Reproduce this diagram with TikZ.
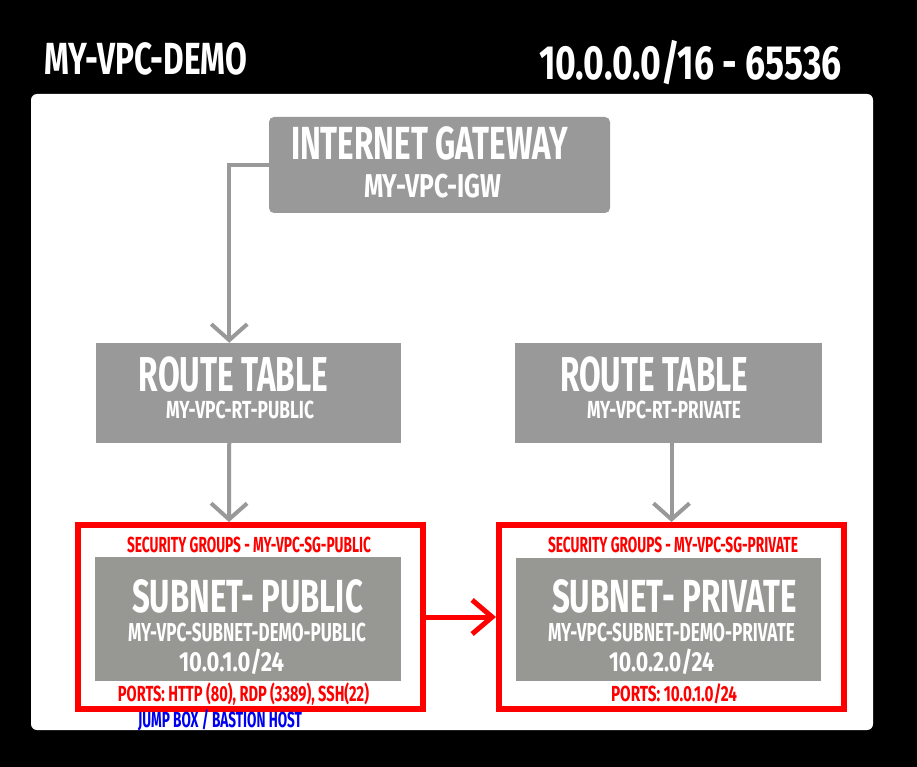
\documentclass[tikz,border=0pt]{standalone}
\usepackage{fontspec}
\setmainfont{Fira Sans}
\usepackage{graphicx}
\usetikzlibrary{arrows.meta}
\definecolor{boxgray}{RGB}{153,153,153}
\definecolor{subgray}{RGB}{151,151,148}
\definecolor{sgred}{RGB}{255,0,0}
\definecolor{hostblue}{RGB}{0,0,240}
\newcommand\fitw[3]{\resizebox{#1pt}{\height}{\fontsize{#2pt}{#2pt}\selectfont\bfseries #3}}
\begin{document}
\begin{tikzpicture}[x=1pt,y=-1pt,
  basetxt/.style={inner sep=0pt, anchor=base, text depth=0pt},
  txt/.style={basetxt, text=white},
  redtxt/.style={basetxt, text=sgred},
  bluetxt/.style={basetxt, text=hostblue},
  panel/.style={fill=white, rounded corners=6pt, minimum width=842pt, minimum height=636pt, inner sep=0pt},
  graybox/.style={fill=boxgray, inner sep=0pt},
  subbox/.style={fill=subgray, inner sep=0pt},
  sgbox/.style={draw=sgred, line width=6pt, inner sep=0pt, minimum width=345pt, minimum height=184pt},
  grayline/.style={draw=boxgray, line width=4pt, -{Straight Barb[length=16pt,width=36pt]}},
  redline/.style={draw=sgred, line width=5pt, -{Straight Barb[length=20pt,width=34pt]}}
]
\path[fill=black, use as bounding box] (0,0) rectangle (917,767);
\node[panel] (vpc) at (452,412) {};

% boxes
\node[graybox, rounded corners=5pt, minimum width=341pt, minimum height=96pt] (igw) at (439.5,165) {};
\node[graybox, minimum width=305.5pt, minimum height=100pt] (rtpub) at (248.25,393) {};
\node[graybox, minimum width=307pt, minimum height=100pt] (rtpriv) at (668.5,393) {};
\node[sgbox] (sgpub) at (250,617) {};
\node[sgbox] (sgpriv) at (671.5,617) {};
\node[subbox, minimum width=306pt, minimum height=124pt] (snpub) at (248,619) {};
\node[subbox, minimum width=305pt, minimum height=123pt] (snpriv) at (668.5,619.5) {};

% titles
\node[txt] (t1) at (145.5,75) {\fitw{203}{45}{MY-VPC-DEMO}};
\node[txt] (t2) at (690.5,80) {\fitw{303}{48}{10.0.0.0/16 - 65536}};

% IGW
\node[txt] (t3) at (429.5,160) {\fitw{277}{46.4}{INTERNET GATEWAY}};
\node[txt] (t4) at (432.5,198) {\fitw{137}{33}{MY-VPC-IGW}};

% route tables
\node[txt] (t5) at (233.5,391) {\fitw{189}{49}{ROUTE TABLE}};
\node[txt] (t6) at (240,418) {\fitw{148}{24.7}{MY-VPC-RT-PUBLIC}};
\node[txt] (t7) at (654,391) {\fitw{188}{49}{ROUTE TABLE}};
\node[txt] (t8) at (664,418) {\fitw{154}{24.7}{MY-VPC-RT-PRIVATE}};

% public subnet
\node[redtxt] (t9) at (249,552) {\fitw{244}{21.8}{SECURITY GROUPS - MY-VPC-SG-PUBLIC}};
\node[txt] (t10) at (247.5,612) {\fitw{231}{46.4}{SUBNET- PUBLIC}};
\node[txt] (t11) at (247,641) {\fitw{238}{26}{MY-VPC-SUBNET-DEMO-PUBLIC}};
\node[txt] (t12) at (231.5,671) {\fitw{105}{27.6}{10.0.1.0/24}};
\node[redtxt] (t13) at (243.5,701) {\fitw{251}{21.8}{PORTS: HTTP (80), RDP (3389), SSH(22)}};
\node[bluetxt] (t14) at (220,727) {\fitw{164}{21.8}{JUMP BOX / BASTION HOST}};

% private subnet
\node[redtxt] (t15) at (673,552) {\fitw{250}{21.8}{SECURITY GROUPS - MY-VPC-SG-PRIVATE}};
\node[txt] (t16) at (674.5,612) {\fitw{245}{46.4}{SUBNET- PRIVATE}};
\node[txt] (t17) at (671.5,641) {\fitw{247}{26}{MY-VPC-SUBNET-DEMO-PRIVATE}};
\node[txt] (t18) at (661.5,671) {\fitw{105}{27.6}{10.0.2.0/24}};
\node[redtxt] (t19) at (674,701) {\fitw{126}{21.8}{PORTS: 10.0.1.0/24}};

% connectors
\draw[grayline] (igw.west) -| ([xshift=-19pt]rtpub.north);
\draw[grayline] ([xshift=-19pt]rtpub.south) -- ([xshift=-21pt]sgpub.north);
\draw[grayline] (rtpriv.south -| sgpriv.north) -- (sgpriv.north);
\draw[redline] (sgpub.east) -- (sgpriv.west);
\end{tikzpicture}
\end{document}
